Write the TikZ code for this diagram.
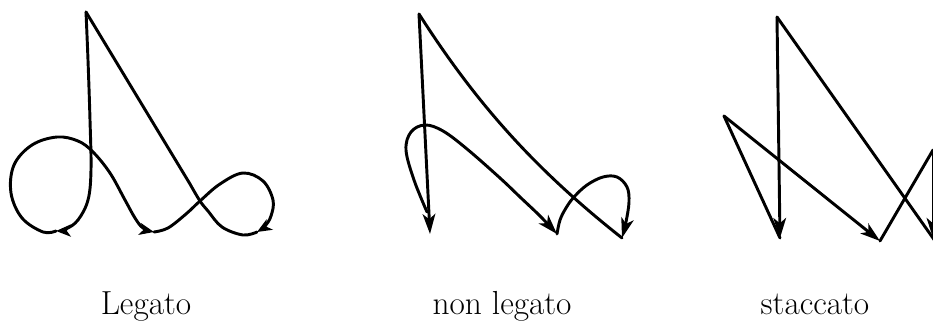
\documentclass[tikz,border=0pt]{standalone}
\usepackage{fontspec}
\usetikzlibrary{arrows.meta}

\begin{document}
\begin{tikzpicture}[
    x=0.75pt, y=-0.75pt,
    stroke/.style={line width=2.2pt, line cap=round, line join=round},
    beat/.style={stroke, -{Stealth[length=15pt,width=9.5pt,inset=4pt]}},
    softbeat/.style={stroke, -{Stealth[length=11pt,width=9pt,inset=3pt]}},
    patname/.style={font=\fontsize{25}{30}\selectfont, anchor=base, inner sep=0pt}
]

% Marco de la figura
\useasboundingbox (0,0) rectangle (933,321);
\clip (0,0) rectangle (933,321);

% Patrón legato
\coordinate (legTop) at (86,12);
\coordinate (legOne) at (56,231);
\coordinate (legTwo) at (154,232);
\coordinate (legThree) at (257,232);
\coordinate (legCross) at (200,201);

\draw [softbeat] plot[smooth, tension=0.6] coordinates {(legTop) (88,60) (90,120) (91,170) (88,200) (78,220) (66,229) (legOne)};
\draw [softbeat] plot[smooth, tension=0.6] coordinates {(legOne) (43,232) (22,218) (11,193) (14,165) (32,145) (57,137) (78,141) (93,152) (110,173) (125,200) (135,218) (143,228) (legTwo)};
\draw [softbeat] plot[smooth, tension=0.6] coordinates {(legTwo) (168,228) (186,214) (legCross) (220,184) (243,173) (263,181) (273,200) (271,216) (265,226) (legThree)};
\draw [stroke] plot[smooth, tension=0.6] coordinates {(legThree) (243,235) (222,227) (208,211) (legCross) (190,184)} -- (legTop);

% Patrón non legato
\coordinate (nonTop) at (419,14);
\coordinate (nonOne) at (430,234);
\coordinate (nonTwo) at (557,234);
\coordinate (nonThree) at (622,238);

\draw [beat] (nonTop) -- (nonOne);
\draw [beat] plot[smooth, tension=0.6] coordinates {(427,212) (414,180) (406,150) (411,132) (425,125) (443,131) (467,149) (500,178) (520,197) (540,216) (nonTwo)};
\draw [beat] plot[smooth, tension=0.6] coordinates {(nonTwo) (560,220) (566,208) (574,197) (587,185) (603,177) (617,177) (627,187) (629,202) (626,222) (nonThree)};
\draw [stroke] (nonTop) .. controls (474,100) and (532,167) .. (nonThree);

% Patrón staccato
\coordinate (stcTop) at (777,17);
\coordinate (stcOne) at (780,238);
\coordinate (stcLeft) at (724,116);
\coordinate (stcTwo) at (880,241);
\coordinate (stcRight) at (933,150);
\coordinate (stcThree) at (933,238);
\coordinate (stcEnd) at (940,248);

\draw [beat] (stcTop) -- (stcOne);
\draw [stroke] (stcOne) -- (stcLeft);
\draw [beat] (stcLeft) -- (stcTwo);
\draw [stroke] (stcTwo) -- (stcRight);
\draw [beat] (stcRight) -- (stcThree);
\draw [stroke] (stcTop) -- (stcEnd);

% Nombres
\node [patname] (legName) at (146,314) {Legato};
\node [patname] (nonName) at (502,314) {non legato};
\node [patname] (stcName) at (815,314) {staccato};

\end{tikzpicture}
\end{document}
